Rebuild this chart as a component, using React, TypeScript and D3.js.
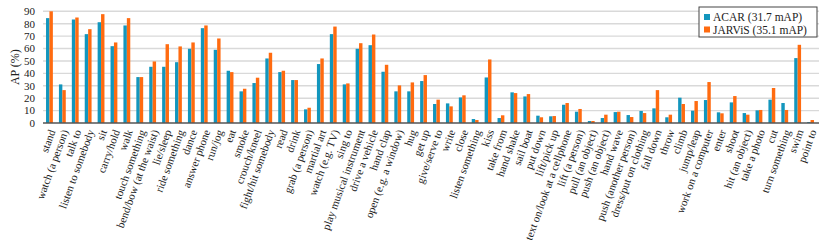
import React from "react";
import * as d3 from "d3";

const categories = [
  "stand", "watch (a person)", "talk to", "listen to somebody", "sit", "carry/hold", "walk",
  "touch something", "bend/bow (at the waist)", "lie/sleep", "ride something", "dance",
  "answer phone", "run/jog", "eat", "smoke", "crouch/kneel", "fight/hit somebody", "read",
  "drink", "grab (a person)", "martial art", "watch (e.g. TV)", "sing to",
  "play musical instrument", "drive a vehicle", "hand clap", "open (e.g. a window)", "hug",
  "get up", "give/serve to", "write", "close", "listen something", "kiss", "take from",
  "hand shake", "sail boat", "put down", "lift/pick up", "text on/look at a cellphone",
  "lift (a person)", "pull (an object)", "push (an object)", "hand wave",
  "push (another person)", "dress/put on clothing", "fall down", "throw", "climb",
  "jump/leap", "work on a computer", "enter", "shoot", "hit (an object)", "take a photo",
  "cut", "turn something", "swim", "point to",
];

const acar = [
  84.5, 31.1, 83.4, 71.6, 81.2, 61.9, 78.6, 37.0, 45.3, 45.3, 49.0, 59.8,
  76.4, 59.0, 42.1, 25.5, 32.2, 52.0, 41.0, 34.6, 11.0, 47.5, 71.6, 31.1,
  59.8, 62.7, 41.3, 25.5, 25.5, 33.8, 15.3, 15.8, 20.6, 3.2, 36.7, 4.0,
  24.7, 21.4, 5.9, 5.4, 14.7, 9.1, 1.6, 4.0, 8.8, 6.4, 9.7, 11.8,
  4.6, 20.4, 9.9, 18.5, 8.6, 16.6, 8.0, 10.2, 18.8, 16.1, 52.3, 0.8,
];

const jarvis = [
  90.0, 26.5, 85.0, 75.6, 87.7, 64.9, 84.5, 37.0, 49.6, 63.5, 61.7, 64.9,
  78.6, 68.1, 41.0, 27.6, 36.5, 56.6, 42.1, 34.6, 12.3, 52.0, 77.7, 31.9,
  64.3, 71.3, 46.9, 30.3, 32.7, 38.6, 18.8, 13.4, 22.3, 2.4, 51.2, 6.2,
  24.1, 23.3, 4.6, 5.6, 16.1, 11.3, 1.6, 6.7, 9.1, 4.8, 8.0, 26.5,
  6.7, 15.3, 17.7, 33.0, 7.8, 21.7, 6.7, 10.5, 28.2, 10.5, 63.0, 2.4,
];

const seriesNames = ["ACAR (31.7 mAP)", "JARViS (35.1 mAP)"];
const seriesColors = ["#1396bd", "#ff6b10"];
const yTicks = [0, 10, 20, 30, 40, 50, 60, 70, 80, 90];

const W = 822;
const H = 247;

export default function App() {
  const x = d3
    .scaleBand<string>()
    .domain(categories)
    .range([43, 817])
    .paddingInner(0.47)
    .paddingOuter(0.235);
  const sub = d3
    .scaleBand<number>()
    .domain([0, 1])
    .range([0, x.bandwidth()]);
  const y = d3.scaleLinear().domain([0, 90]).range([123, 11.3]);
  const series = [acar, jarvis];
  const serif = "'Liberation Serif', 'Times New Roman', serif";

  return (
    <svg
      width={W}
      height={H}
      style={{ position: "absolute", left: 0, top: 0, background: "#fff" }}
      fontFamily={serif}
    >
      {yTicks.slice(1).map((t) => (
        <line
          key={"g" + t}
          x1={43}
          x2={819}
          y1={y(t)}
          y2={y(t)}
          stroke="#d9d9d9"
          strokeWidth={1.4}
        />
      ))}
      {yTicks.map((t) => (
        <text
          key={"t" + t}
          x={35}
          y={y(t)}
          dy="0.35em"
          textAnchor="end"
          fontSize={11}
          fill="#222"
        >
          {t}
        </text>
      ))}
      <text
        transform={`translate(15, ${(y(0) + y(90)) / 2}) rotate(-90)`}
        textAnchor="middle"
        dy="0.35em"
        fontSize={12}
        fill="#222"
      >
        AP (%)
      </text>
      {categories.map((c, i) => (
        <g key={c} transform={`translate(${x(c)},0)`}>
          {series.map((s, k) => (
            <rect
              key={k}
              x={sub(k)}
              width={sub.bandwidth()}
              y={y(s[i])}
              height={y(0) - y(s[i])}
              fill={seriesColors[k]}
            />
          ))}
        </g>
      ))}
      <line x1={43} x2={819} y1={y(0)} y2={y(0)} stroke="#555" strokeWidth={1.4} />
      {categories.map((c) => {
        const cx = (x(c) as number) + x.bandwidth() / 2;
        return (
          <text
            key={"l" + c}
            transform={`translate(${cx + 2.5}, 130) rotate(-70)`}
            textAnchor="end"
            dy="0.35em"
            fontSize={11}
            fill="#222"
          >
            {c}
          </text>
        );
      })}
      <g>
        <rect x={699} y={7} width={118} height={30} fill="#fff" stroke="#444" strokeWidth={1} />
        {seriesNames.map((n, k) => (
          <g key={n} transform={`translate(704, ${17 + k * 12.5})`}>
            <rect x={0} y={-3} width={6} height={6} fill={seriesColors[k]} />
            <text x={9} y={0} dy="0.35em" fontSize={11.5} fill="#222">
              {n}
            </text>
          </g>
        ))}
      </g>
    </svg>
  );
}
